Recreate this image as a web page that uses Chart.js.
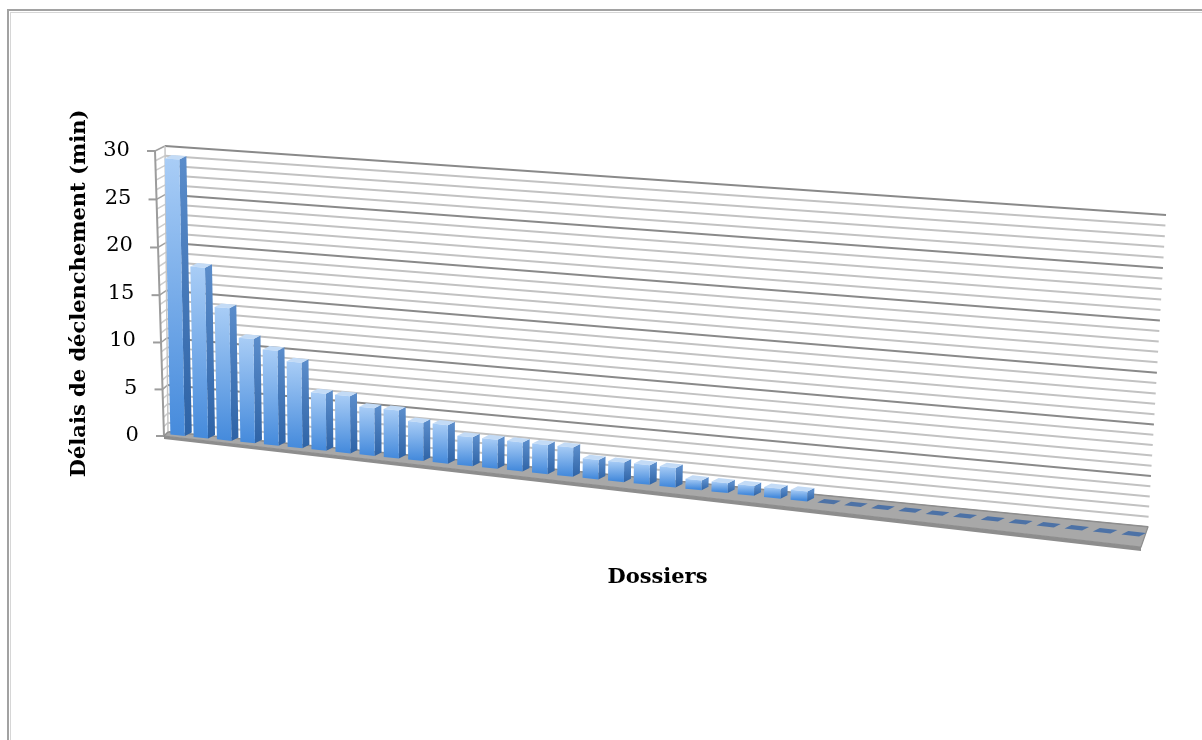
<!DOCTYPE html>
<html lang="fr">
<head>
<meta charset="utf-8">
<title>Délais de déclenchement par dossier</title>
<script src="https://cdn.jsdelivr.net/npm/chart.js@4.4.1/dist/chart.umd.min.js"></script>
<style>
  html, body { margin: 0; padding: 0; background: #ffffff; }
  canvas { display: block; }
</style>
</head>
<body>
<canvas id="graphique" width="1202" height="740"></canvas>
<script>
// ---- Données ----
const dossiers = ['1','2','3','4','5','6','7','8','9','10','11','12','13','14','15','16','17','18','19',
                  '20','21','22','23','24','25','26','27','28','29','30','31','32','33','34','35','36','37','38'];
const delais = [29, 18, 14, 11, 10, 9, 6, 6, 5, 5, 4, 4, 3, 3, 3, 3, 3, 2, 2, 2, 2, 1, 1, 1, 1, 1,
                0, 0, 0, 0, 0, 0, 0, 0, 0, 0, 0, 0];
const graduations = [0, 5, 10, 15, 20, 25, 30];
const pasGrille = 1;   // une ligne de quadrillage par minute

// ---- Vue en perspective ----
// Mur du fond et bord avant du plancher, en coins écran (haut-gauche, haut-droite, bas-droite, bas-gauche)
const murFond   = [{x:165, y:146}, {x:1166, y:215}, {x:1148, y:527}, {x:168, y:432}];
const bordAvant = [{x:155, y:151}, {x:1157, y:226}, {x:1141, y:547}, {x:164, y:436}];
const planBarres = 0.5;                     // position des faces avant entre le fond (0) et l'avant (1)
const profondeurBarre = {x: 7, y: -3.5};    // décalage face avant -> face arrière
const retraitEtiquettes = 25;               // recul des graduations chiffrées vers la gauche

// Homographie du carré unité vers un quadrilatère
function homographie(q) {
  const [p0, p1, p2, p3] = q;
  const dx1 = p1.x - p2.x, dx2 = p3.x - p2.x, dx3 = p0.x - p1.x + p2.x - p3.x;
  const dy1 = p1.y - p2.y, dy2 = p3.y - p2.y, dy3 = p0.y - p1.y + p2.y - p3.y;
  const den = dx1 * dy2 - dx2 * dy1;
  const g = (dx3 * dy2 - dx2 * dy3) / den;
  const h = (dx1 * dy3 - dx3 * dy1) / den;
  const a = p1.x - p0.x + g * p1.x, b = p3.x - p0.x + h * p3.x, c = p0.x;
  const d = p1.y - p0.y + g * p1.y, e = p3.y - p0.y + h * p3.y, f = p0.y;
  return (s, r) => {
    const w = g * s + h * r + 1;
    return { x: (a * s + b * r + c) / w, y: (d * s + e * r + f) / w };
  };
}
const projFond = homographie(murFond);
const projAvant = homographie(bordAvant);

// (u : 0 gauche -> 1 droite, v : 0 bas -> 1 haut, t : 0 fond -> 1 avant)
function P(u, v, t) {
  const b = projFond(u, 1 - v), f = projAvant(u, 1 - v);
  return { x: b.x + (f.x - b.x) * t, y: b.y + (f.y - b.y) * t };
}
const decale = (p, d) => ({ x: p.x + d.x, y: p.y + d.y });

function polygone(ctx, pts, fill, stroke, lw) {
  ctx.beginPath();
  ctx.moveTo(pts[0].x, pts[0].y);
  for (let i = 1; i < pts.length; i++) ctx.lineTo(pts[i].x, pts[i].y);
  ctx.closePath();
  if (fill) { ctx.fillStyle = fill; ctx.fill(); }
  if (stroke) { ctx.strokeStyle = stroke; ctx.lineWidth = lw || 1; ctx.stroke(); }
}
function ligne(ctx, a, b, color, lw) {
  ctx.beginPath();
  ctx.moveTo(a.x, a.y);
  ctx.lineTo(b.x, b.y);
  ctx.strokeStyle = color;
  ctx.lineWidth = lw;
  ctx.stroke();
}

const perspective3d = {
  id: 'perspective3d',
  beforeDraw(chart) {
    const ctx = chart.ctx;
    const ca = chart.chartArea;
    // cadre du graphique
    ctx.save();
    ctx.strokeStyle = '#a2a2a2';
    ctx.lineWidth = 2;
    ctx.strokeRect(8, 10, 1400, 1000);
    ctx.strokeStyle = '#d6d6d6';
    ctx.lineWidth = 1;
    ctx.strokeRect(10.5, 12.5, 1400, 1000);
    ctx.restore();

    // étiquettes de l'axe vertical alignées sur l'arête avant inclinée
    const y = chart.scales.y;
    const items = y.getLabelItems(ca);
    const xRef = P(0, 1, 1).x;
    items.forEach(it => {
      const tr = it.options ? it.options.translation : it.translation;
      if (!tr) return;
      const v = (ca.bottom - tr[1]) / (ca.bottom - ca.top);
      tr[0] += P(0, v, 1).x - xRef - retraitEtiquettes;
    });
  },
  beforeDatasetsDraw(chart) {
    const ctx = chart.ctx;
    const ca = chart.chartArea;
    const ys = chart.scales.y;
    const toU = px => (px - ca.left) / (ca.right - ca.left);
    const toV = py => (ca.bottom - py) / (ca.bottom - ca.top);

    ctx.save();
    ctx.lineCap = 'butt';

    // paroi latérale gauche
    polygone(ctx, [P(0, 1, 0), P(0, 0, 0), P(0, 0, 1), P(0, 1, 1)], '#ffffff');
    for (let val = ys.min; val <= ys.max; val += pasGrille) {
      const v = toV(ys.getPixelForValue(val));
      const major = val % 5 === 0;
      ligne(ctx, P(0, v, 0), P(0, v, 1), major ? '#a0a0a0' : '#cdcdcd', 1.5);
    }

    // quadrillage du mur du fond
    for (let val = ys.min; val <= ys.max; val += pasGrille) {
      const v = toV(ys.getPixelForValue(val));
      const major = val % 5 === 0;
      ligne(ctx, P(0, v, 0), P(1, v, 0), major ? '#8a8a8a' : '#c2c2c2', 2);
    }
    ligne(ctx, P(0, 0, 0), P(0, 1, 0), '#c6c6c6', 1.5);

    // axe vertical avant et graduations
    ligne(ctx, P(0, 0, 1), P(0, 1, 1), '#9c9c9c', 2);
    graduations.forEach(val => {
      const v = toV(ys.getPixelForValue(val));
      const p = P(0, v, 1);
      ligne(ctx, p, { x: p.x - 8, y: p.y }, '#9c9c9c', 2);
    });

    // plancher
    const f0 = P(0, 0, 1), f1 = P(1, 0, 1);
    polygone(ctx, [f0, f1, decale(f1, {x: 0, y: 4}), decale(f0, {x: 0, y: 3})], '#8d8d8d');
    polygone(ctx, [P(0, 0, 0), P(1, 0, 0), f1, f0], '#a8a8a8', '#8e8e8e', 1.2);

    // barres en relief
    const meta = chart.getDatasetMeta(0);
    meta.data.forEach(bar => {
      const { x, y, base, width } = bar.getProps(['x', 'y', 'base', 'width'], true);
      const u1 = toU(x - width / 2), u2 = toU(x + width / 2);
      const vHaut = toV(y), vBas = toV(base);
      const t = planBarres;
      const flh = P(u1, vHaut, t), frh = P(u2, vHaut, t);
      const frb = P(u2, vBas, t), flb = P(u1, vBas, t);
      const D = profondeurBarre;

      if (vHaut - vBas < 1e-6) {
        polygone(ctx, [flh, frh, decale(frh, D), decale(flh, D)], '#4d72a6');
        return;
      }
      // face latérale droite
      const gLat = ctx.createLinearGradient(0, frh.y, 0, frb.y);
      gLat.addColorStop(0, '#5a8cca');
      gLat.addColorStop(1, '#2e63a6');
      polygone(ctx, [frb, frh, decale(frh, D), decale(frb, D)], gLat);
      // face supérieure
      polygone(ctx, [flh, frh, decale(frh, D), decale(flh, D)], '#c3dbf6');
      // face avant
      const gAv = ctx.createLinearGradient(0, flh.y, 0, flb.y);
      gAv.addColorStop(0, '#a9cdf6');
      gAv.addColorStop(1, '#468bdc');
      polygone(ctx, [flh, frh, frb, flb], gAv);
    });

    ctx.restore();
    return false;
  }
};

new Chart(document.getElementById('graphique'), {
  type: 'bar',
  data: {
    labels: dossiers,
    datasets: [{
      label: 'Délais de déclenchement (min)',
      data: delais,
      backgroundColor: '#4f81bd',
      barPercentage: 0.62,
      categoryPercentage: 1
    }]
  },
  options: {
    responsive: false,
    animation: false,
    devicePixelRatio: 1,
    layout: { padding: { left: 20, right: 52, top: 151, bottom: 150 } },
    plugins: {
      legend: { display: false },
      tooltip: { enabled: false }
    },
    scales: {
      x: {
        grid: { display: false, drawTicks: false },
        border: { display: false },
        ticks: { display: false },
        title: {
          display: true,
          text: 'Dossiers',
          color: '#000000',
          font: { family: 'DejaVu Serif', size: 21, weight: 'bold' },
          padding: { top: 129, bottom: 0 }
        }
      },
      y: {
        min: 0,
        max: 30,
        afterBuildTicks: s => { s.ticks = graduations.map(v => ({ value: v })); },
        grid: { display: false, drawTicks: false },
        border: { display: false },
        ticks: {
          autoSkip: false,
          color: '#000000',
          padding: 10,
          font: { family: 'DejaVu Serif', size: 21 }
        },
        title: {
          display: true,
          text: 'Délais de déclenchement (min)',
          color: '#000000',
          font: { family: 'DejaVu Serif', size: 21, weight: 'bold' },
          padding: { top: 47, bottom: 26 }
        }
      }
    }
  },
  plugins: [perspective3d]
});
</script>
</body>
</html>
